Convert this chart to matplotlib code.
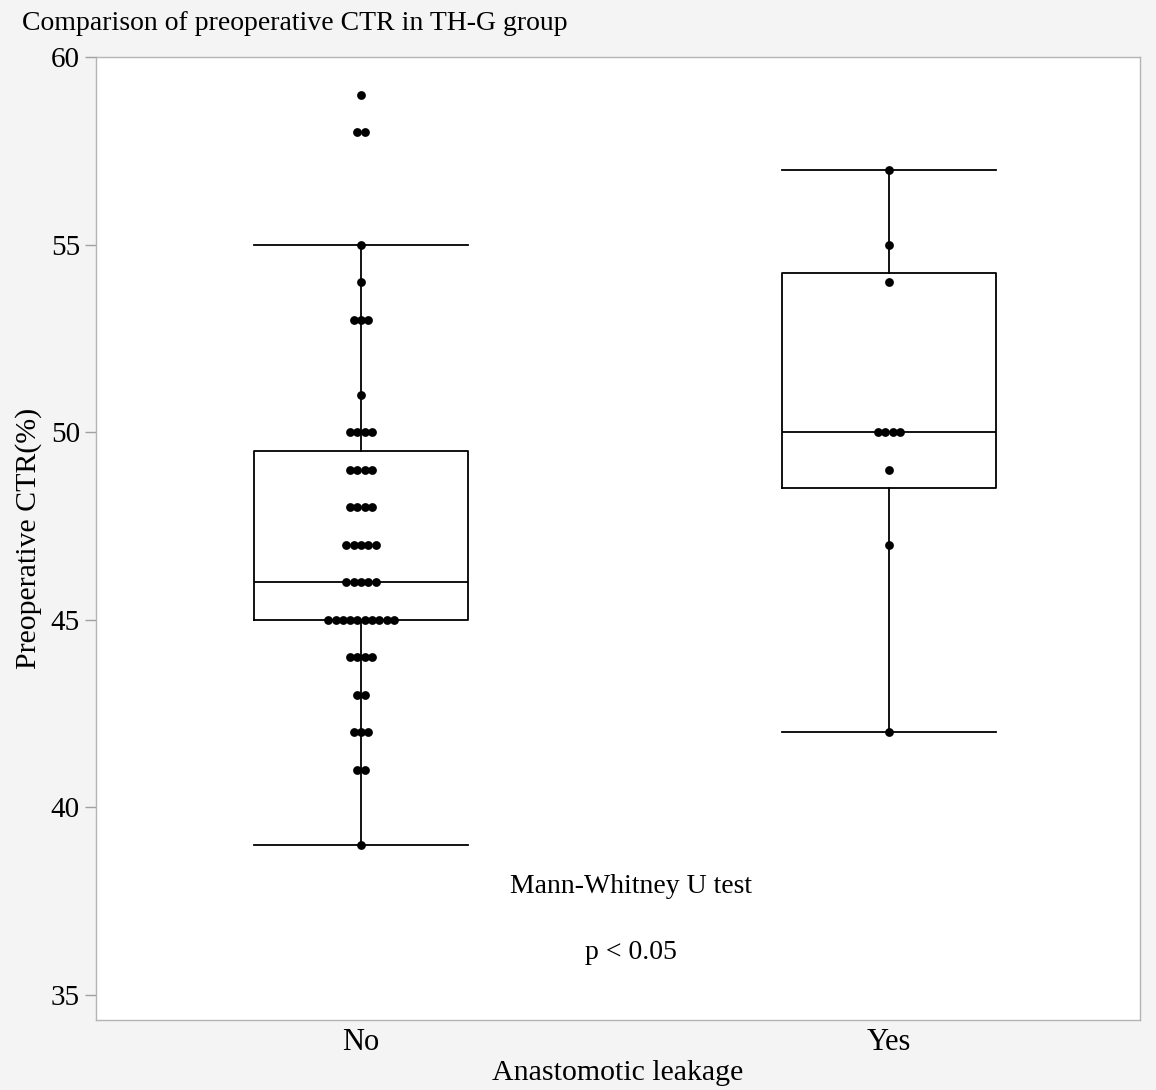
import numpy as np
import matplotlib
matplotlib.use("Agg")
import matplotlib.pyplot as plt

# Values: CTR level -> number of patients
groups = ["No", "Yes"]
no_levels = [39, 41, 42, 43, 44, 45, 46, 47, 48, 49, 50, 51, 53, 54, 55, 58, 59]
no_counts = [1, 2, 3, 2, 4, 10, 5, 5, 4, 4, 4, 1, 3, 1, 1, 2, 1]
yes_levels = [42, 47, 49, 50, 54, 55, 57]
yes_counts = [1, 1, 1, 4, 1, 1, 1]

plt.rcParams["font.family"] = ["Liberation Serif", "DejaVu Serif"]

fig = plt.figure(figsize=(11.56, 10.90), dpi=100)
fig.patch.set_facecolor("#f4f4f4")
ax = fig.add_axes([0.083, 0.0642, 0.903, 0.8835])
ax.set_facecolor("white")


def box_stats(vals):
    # JMP style quantiles ((n+1)p)
    q1, med, q3 = np.percentile(vals, [25, 50, 75], method="weibull")
    iqr = q3 - q1
    lo = vals[vals >= q1 - 1.5 * iqr].min()
    hi = vals[vals <= q3 + 1.5 * iqr].max()
    return dict(med=med, q1=q1, q3=q3, whislo=lo, whishi=hi, fliers=[])


data = [np.repeat(no_levels, no_counts).astype(float),
        np.repeat(yes_levels, yes_counts).astype(float)]
stats = [box_stats(v) for v in data]

line = dict(color="black", linewidth=1.3)
ax.bxp(stats, positions=[0, 1], widths=0.405, capwidths=[0.405, 0.405],
       showfliers=False, boxprops=line, whiskerprops=line, capprops=line,
       medianprops=line, zorder=2)

# dots stacked side by side per level
spacing = 0.0138
for pos, levels, counts in [(0, no_levels, no_counts), (1, yes_levels, yes_counts)]:
    for lev, c in zip(levels, counts):
        xs = pos + (np.arange(c) - (c - 1) / 2) * spacing
        ax.scatter(xs, [lev] * c, s=40, color="black", zorder=3, linewidths=0)

ax.set_xlim(-0.502, 1.475)
ax.set_ylim(34.33, 60)
ax.set_yticks([35, 40, 45, 50, 55, 60])
ax.set_xticks([0, 1])
ax.set_xticklabels(groups)
ax.tick_params(axis="y", labelsize=21, length=8, color="#a0a0a0", width=1)
ax.tick_params(axis="x", labelsize=22, length=0, pad=6)
for sp in ax.spines.values():
    sp.set_color("#b4b4b4")
    sp.set_linewidth(1)

ax.set_ylabel("Preoperative CTR(%)", fontsize=21.5, labelpad=6)
ax.set_xlabel("Anastomotic leakage", fontsize=21.5, labelpad=2)

ax.text(0.511, 37.9, "Mann-Whitney U test", fontsize=20, ha="center", va="center")
ax.text(0.511, 36.13, "p < 0.05", fontsize=20, ha="center", va="center")

fig.text(0.019, 0.978, "Comparison of preoperative CTR in TH-G group",
         fontsize=20, ha="left", va="center")

fig.savefig("out.png", dpi=100, facecolor=fig.get_facecolor())
